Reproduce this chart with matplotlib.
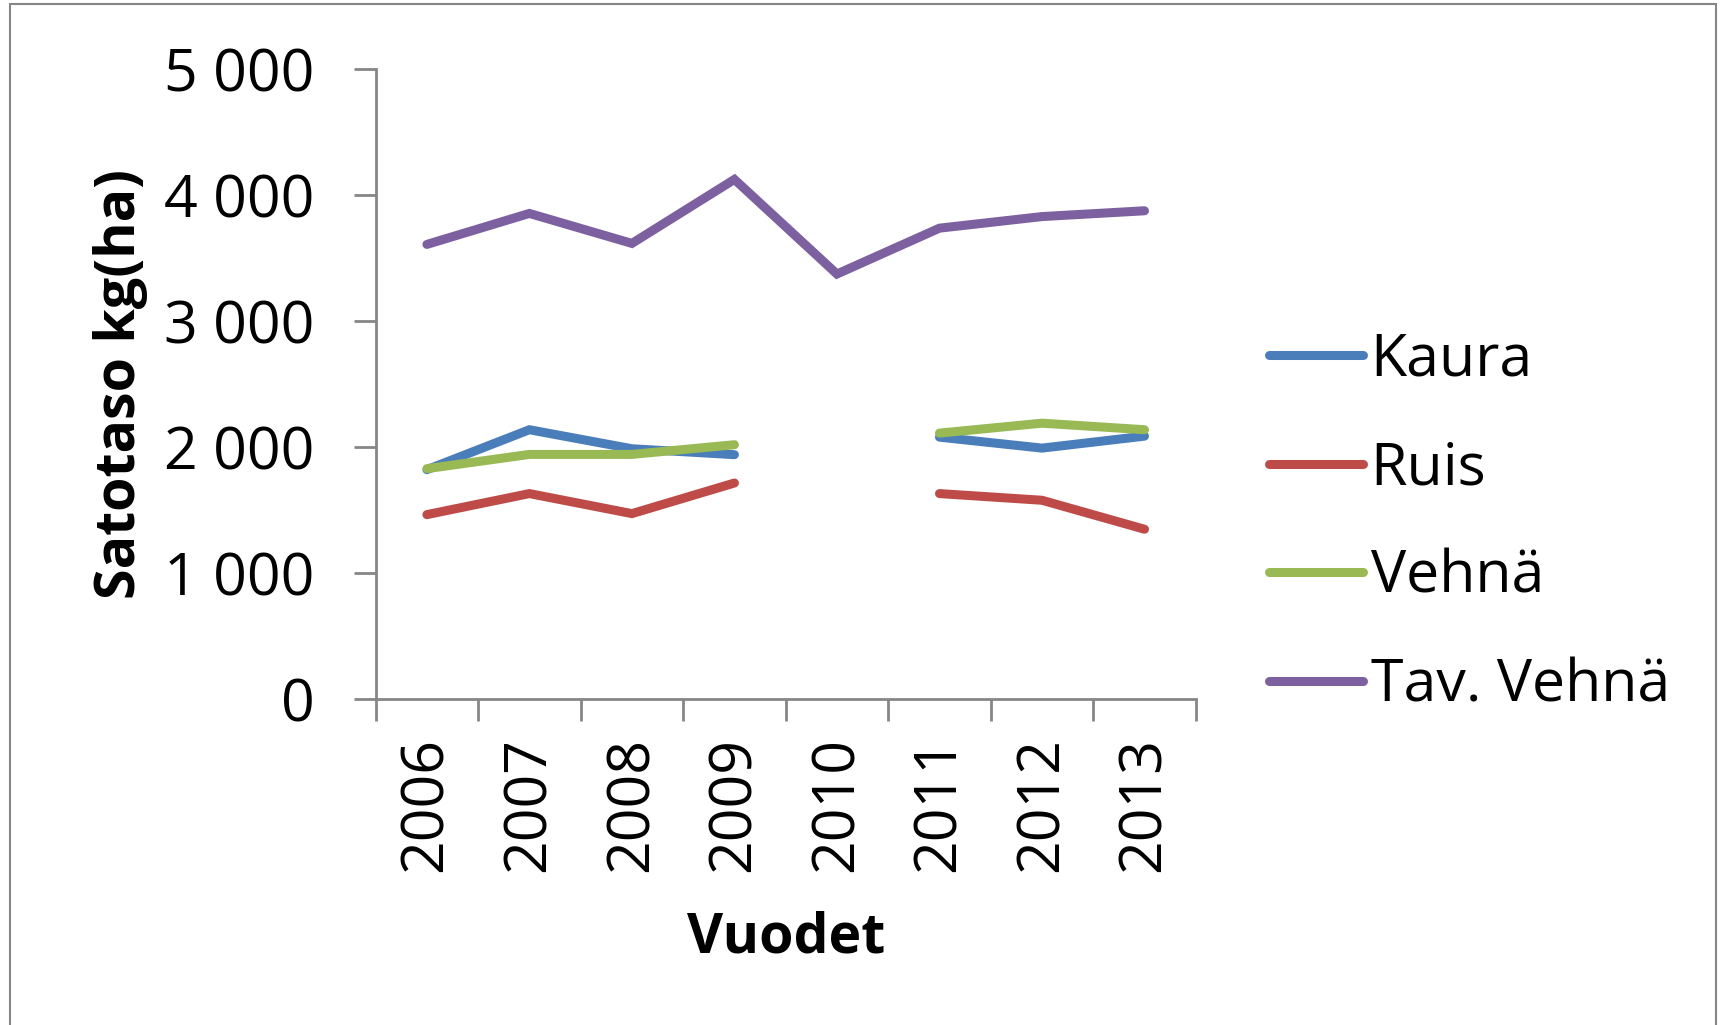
import matplotlib
matplotlib.use("Agg")
import matplotlib.pyplot as plt
from matplotlib.patches import Rectangle
from matplotlib.ticker import FuncFormatter
import numpy as np

years = ["2006", "2007", "2008", "2009", "2010", "2011", "2012", "2013"]
kaura = [1821, 2138, 1987, 1940, np.nan, 2079, 1992, 2087]
ruis = [1464, 1631, 1472, 1715, np.nan, 1631, 1578, 1348]
vehna = [1829, 1942, 1942, 2019, np.nan, 2111, 2190, 2138]
tav_vehna = [3609, 3855, 3617, 4125, 3374, 3738, 3830, 3876]

names = ["Kaura", "Ruis", "Vehnä", "Tav. Vehnä"]
colors = ["#4A7EBB", "#BE4B48", "#98B954", "#7D60A0"]
series = [kaura, ruis, vehna, tav_vehna]

plt.rcParams['font.family'] = ['Open Sans', 'DejaVu Sans']
fs = 42.5
fs_lab = 40
grey = "#868686"

fig = plt.figure(figsize=(17.23, 10.25), dpi=100)
ax = fig.add_axes([0.218, 0.318, 0.476, 0.6145])

x = np.arange(len(years))
for vals, name, c in zip(series, names, colors):
    ax.plot(x, vals, color=c, lw=6.5, label=name, solid_capstyle='round', solid_joinstyle='miter')

ax.set_xlim(-0.5, len(years) - 0.5)
ax.set_ylim(0, 5000)
ax.set_yticks(range(0, 5001, 1000))
ax.yaxis.set_major_formatter(FuncFormatter(lambda v, p: f"{int(v):,}".replace(",", " ")))

# category axis: ticks between categories, labels centered
ax.set_xticks(np.arange(-0.5, len(years)), minor=False)
ax.set_xticklabels([])
ax.set_xticks(x, minor=True)
ax.set_xticklabels(years, minor=True, rotation=90, fontsize=fs)
ax.tick_params(axis='x', which='major', length=16, width=2, color=grey, direction='out')
ax.tick_params(axis='x', which='minor', length=0, pad=27)
ax.tick_params(axis='y', length=16, width=2, color=grey, labelsize=fs, pad=28)

for s in ["top", "right"]:
    ax.spines[s].set_visible(False)
for s in ["left", "bottom"]:
    ax.spines[s].set_color(grey)
    ax.spines[s].set_linewidth(2)

ax.set_ylabel("Satotaso kg(ha)", fontsize=fs_lab, fontweight='bold')
ax.yaxis.set_label_coords(-0.278, 0.5)
ax.set_xlabel("Vuodet", fontsize=fs_lab, fontweight='bold')
ax.xaxis.set_label_coords(0.5, -0.335)

fig.legend(loc='upper left', bbox_to_anchor=(0.7365, 0.677), frameon=False,
           fontsize=fs, handlelength=1.6, handletextpad=0.12, labelspacing=0.85,
           borderpad=0, borderaxespad=0)

fig.patches.append(Rectangle((0.0058, -0.1), 0.9902, 1.0962, transform=fig.transFigure,
                             fill=False, edgecolor=grey, lw=1.5))

fig.savefig("out.png", dpi=100)
